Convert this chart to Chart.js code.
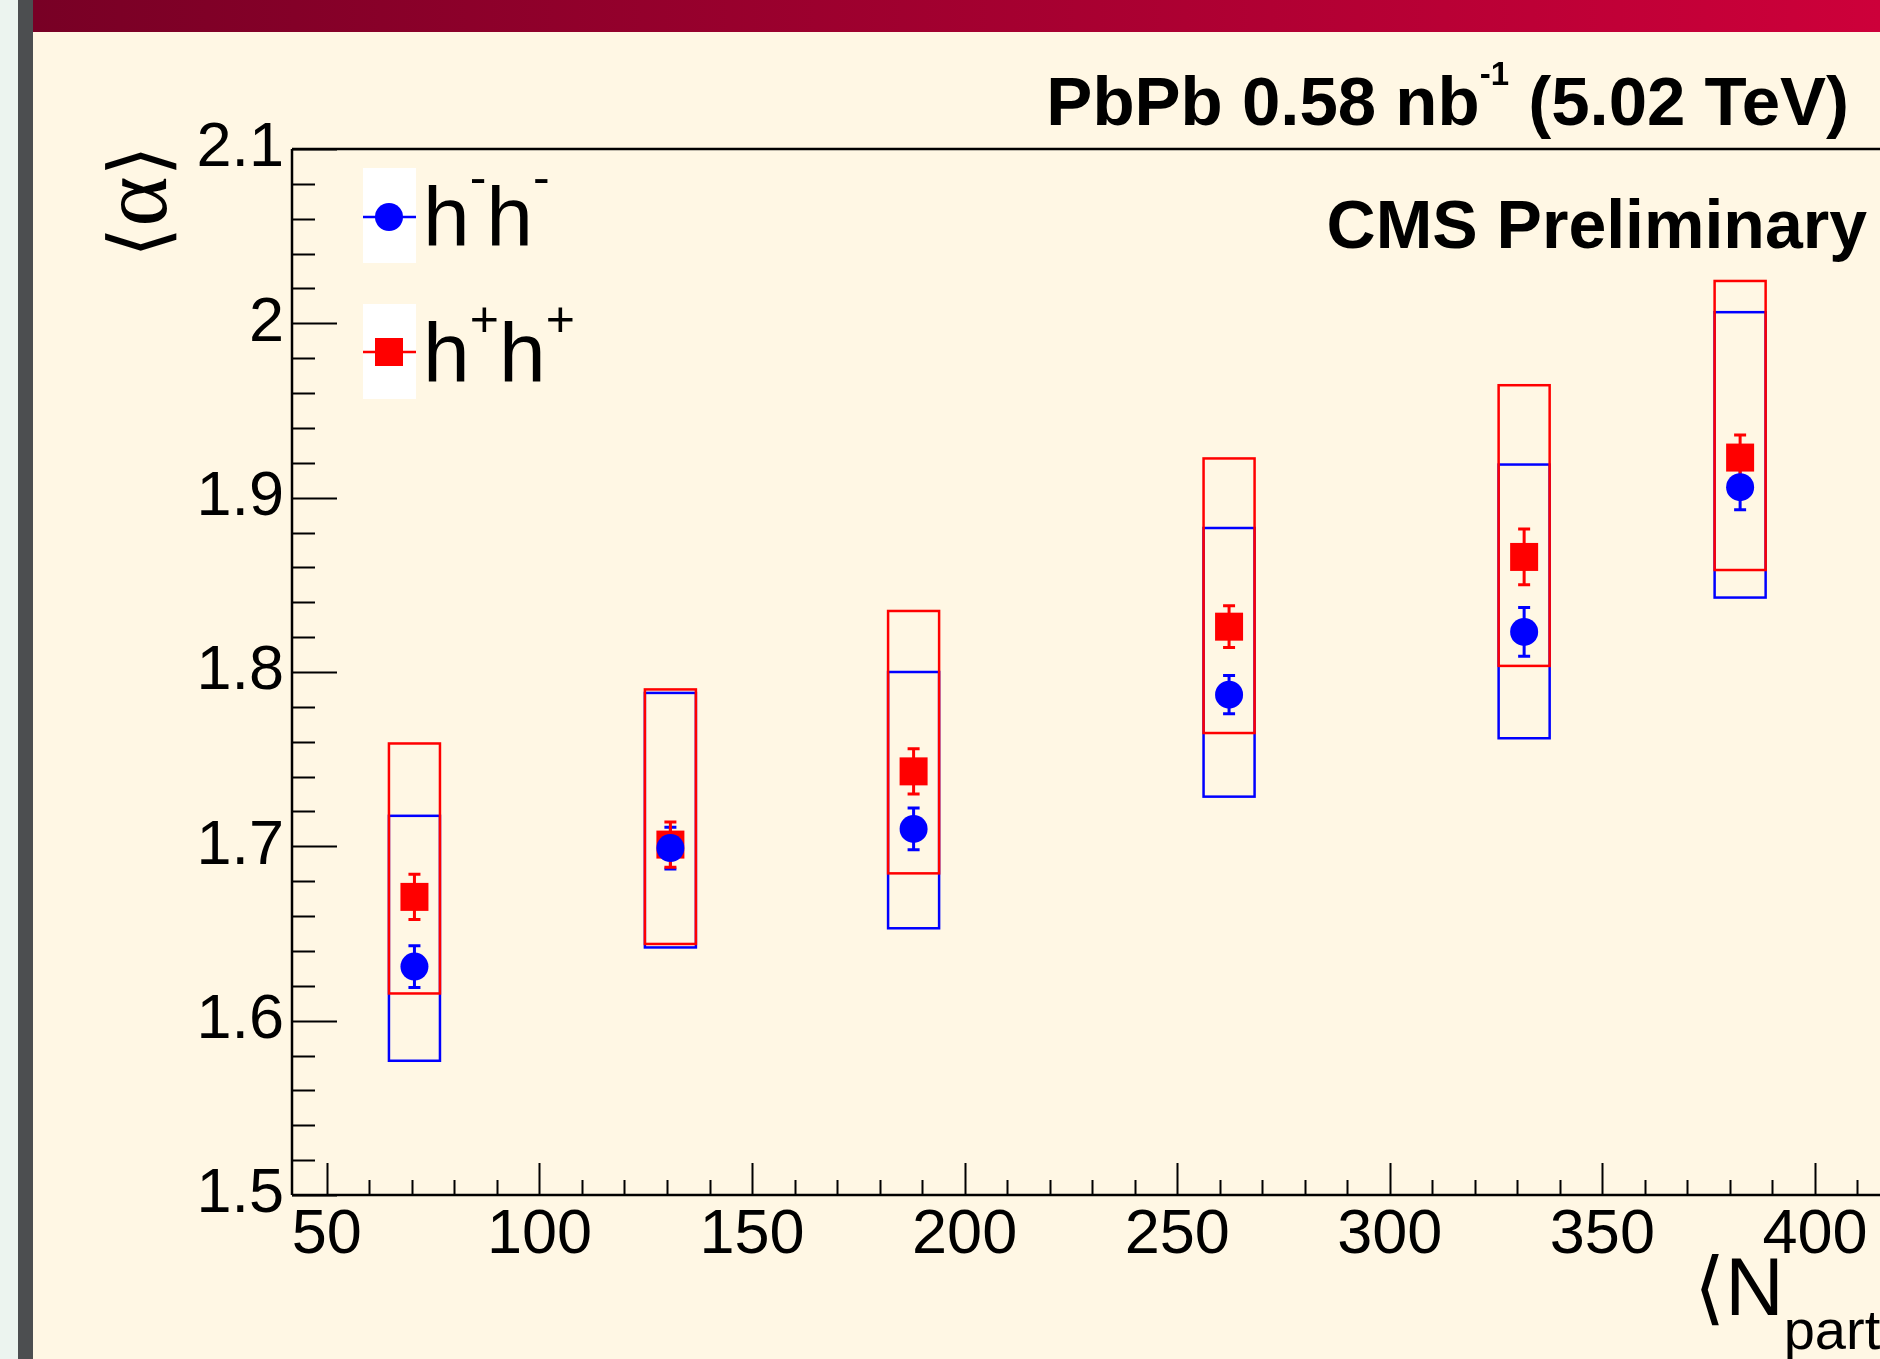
<!DOCTYPE html>
<html lang="en">

<head>
    <meta charset="UTF-8">
    <title>Lévy alpha vs Npart</title>
    <script src="https://cdn.jsdelivr.net/npm/chart.js"></script>
    <style>
        body {
            margin: 0;
            width: 1880px;
            height: 1359px;
            overflow: hidden;
            position: relative;
            background: #fff7e4;
        }

        .strip-light { position: absolute; left: 0; top: 0; width: 18px; height: 100%; background: #ecf4ef; }
        .strip-dark { position: absolute; left: 18px; top: 0; width: 15px; height: 100%; background: #4c4e50; }
        .topbar {
            position: absolute; left: 33px; top: 0; right: 0; height: 32px;
            background: linear-gradient(to right, #780025, #cd003a);
        }
        #chart { position: absolute; left: 0; top: 0; }
    </style>
</head>

<body>
    <div class="strip-light"></div>
    <div class="strip-dark"></div>
    <div class="topbar"></div>
    <canvas id="chart" width="1880" height="1359"></canvas>

    <script>
        // tick values
        const xTicks = [50, 100, 150, 200, 250, 300, 350, 400];
        const yTicks = [1.5, 1.6, 1.7, 1.8, 1.9, 2.0, 2.1];

        // <Npart> of each centrality bin
        const npart = [70.6, 130.8, 188.0, 262.2, 331.6, 382.4];

        // h-h-
        const alphaMinus = [1.631, 1.699, 1.710, 1.787, 1.823, 1.906];
        const statMinus = [0.012, 0.012, 0.012, 0.011, 0.014, 0.013];
        const sysLowMinus = [1.577, 1.642, 1.653, 1.7285, 1.762, 1.8427];
        const sysHighMinus = [1.7175, 1.788, 1.800, 1.8826, 1.919, 2.0064];

        // h+h+
        const alphaPlus = [1.671, 1.701, 1.743, 1.826, 1.866, 1.923];
        const statPlus = [0.013, 0.013, 0.013, 0.012, 0.016, 0.013];
        const sysLowPlus = [1.6156, 1.644, 1.6845, 1.765, 1.8035, 1.8585];
        const sysHighPlus = [1.759, 1.790, 1.835, 1.9225, 1.9645, 2.0243];

        const BLUE = '#0000ff';
        const RED = '#ff0000';
        const SANS = '"Liberation Sans", Arial, sans-serif';
        const boxHalf = 6; // half width of systematic boxes, Npart units

        function drawParts(ctx, parts, x, y, align) {
            let total = 0;
            parts.forEach(p => { ctx.font = p[1]; total += ctx.measureText(p[0]).width; });
            let cx = align === 'right' ? x - total : x;
            parts.forEach(p => {
                ctx.font = p[1];
                ctx.fillText(p[0], cx, y + (p[2] || 0));
                cx += ctx.measureText(p[0]).width;
            });
        }

        // systematic boxes and stat error bars
        const errorPlugin = {
            id: 'errors',
            beforeDatasetsDraw(chart) {
                const { ctx, scales: { x, y } } = chart;
                ctx.save();
                ctx.lineWidth = 2.5;
                const boxes = (lo, hi, color) => {
                    ctx.strokeStyle = color;
                    npart.forEach((n, i) => {
                        const x0 = x.getPixelForValue(n - boxHalf), x1 = x.getPixelForValue(n + boxHalf);
                        const y0 = y.getPixelForValue(hi[i]), y1 = y.getPixelForValue(lo[i]);
                        ctx.strokeRect(x0, y0, x1 - x0, y1 - y0);
                    });
                };
                const bars = (vals, errs, color) => {
                    ctx.strokeStyle = color;
                    ctx.lineWidth = 3;
                    npart.forEach((n, i) => {
                        const px = x.getPixelForValue(n);
                        const yt = y.getPixelForValue(vals[i] + errs[i]);
                        const yb = y.getPixelForValue(vals[i] - errs[i]);
                        ctx.beginPath();
                        ctx.moveTo(px, yt); ctx.lineTo(px, yb);
                        ctx.moveTo(px - 6, yt); ctx.lineTo(px + 6, yt);
                        ctx.moveTo(px - 6, yb); ctx.lineTo(px + 6, yb);
                        ctx.stroke();
                    });
                };
                boxes(sysLowMinus, sysHighMinus, BLUE);
                boxes(sysLowPlus, sysHighPlus, RED);
                bars(alphaMinus, statMinus, BLUE);
                bars(alphaPlus, statPlus, RED);
                ctx.restore();
            }
        };

        // ROOT style frame with inward ticks, legend and labels
        const framePlugin = {
            id: 'frame',
            afterDraw(chart) {
                const { ctx, chartArea: a, scales: { x, y } } = chart;
                const right = ctx.canvas.width;
                ctx.save();
                ctx.strokeStyle = '#000';
                ctx.lineWidth = 2.5;
                ctx.beginPath();
                ctx.moveTo(a.left, a.top); ctx.lineTo(right, a.top);
                ctx.moveTo(a.left, a.top); ctx.lineTo(a.left, a.bottom);
                ctx.moveTo(a.left, a.bottom); ctx.lineTo(right, a.bottom);
                ctx.stroke();

                ctx.lineWidth = 2;
                ctx.beginPath();
                for (let v = 1.5; v <= 2.1001; v += 0.02) {
                    const py = Math.round(y.getPixelForValue(v)) + 0.5;
                    const major = Math.abs(v * 10 - Math.round(v * 10)) < 1e-6;
                    ctx.moveTo(a.left, py); ctx.lineTo(a.left + (major ? 45 : 23), py);
                }
                for (let v = 50; v <= 410; v += 10) {
                    const px = Math.round(x.getPixelForValue(v)) + 0.5;
                    const major = v % 50 === 0;
                    ctx.moveTo(px, a.bottom); ctx.lineTo(px, a.bottom - (major ? 32 : 15));
                }
                ctx.stroke();

                // legend
                ctx.fillStyle = '#fff';
                ctx.fillRect(363, 168, 53, 95);
                ctx.fillRect(363, 304, 53, 95);
                ctx.lineWidth = 2.5;
                ctx.strokeStyle = BLUE;
                ctx.beginPath(); ctx.moveTo(363, 217); ctx.lineTo(416, 217); ctx.stroke();
                ctx.fillStyle = BLUE;
                ctx.beginPath(); ctx.arc(389, 217, 14, 0, Math.PI * 2); ctx.fill();
                ctx.strokeStyle = RED;
                ctx.beginPath(); ctx.moveTo(363, 352); ctx.lineTo(416, 352); ctx.stroke();
                ctx.fillStyle = RED;
                ctx.fillRect(375, 338, 28, 28);

                ctx.fillStyle = '#000';
                ctx.textBaseline = 'alphabetic';
                const big = '84px ' + SANS, sup = '50px ' + SANS;
                drawParts(ctx, [['h', big], ['-', sup, -52], ['h', big], ['-', sup, -52]], 423, 246);
                drawParts(ctx, [['h', big], ['+', sup, -46], ['h', big], ['+', sup, -46]], 423, 382);

                // header texts
                const bold = 'bold 69px ' + SANS;
                drawParts(ctx, [['PbPb 0.58 nb', bold], ['-1', 'bold 33px ' + SANS, -40], [' (5.02 TeV)', bold]], 1849, 125, 'right');
                drawParts(ctx, [['CMS Preliminary', 'bold 68px ' + SANS]], 1867, 248, 'right');

                // axis titles
                drawParts(ctx, [['⟨', '80px "DejaVu Sans", ' + SANS], ['N', '81px ' + SANS], ['part', '56px ' + SANS, 34], ['⟩', '80px "DejaVu Sans", ' + SANS, 0]], 1694, 1315);

                ctx.translate(166, 258);
                ctx.rotate(-Math.PI / 2);
                const br = '80px "DejaVu Serif", serif';
                drawParts(ctx, [['⟨', br], ['α', '96px "Liberation Serif", serif'], ['⟩', br]], 0, 0);
                ctx.restore();
            }
        };

        new Chart(document.getElementById('chart'), {
            type: 'scatter',
            data: {
                datasets: [{
                    label: 'h-h-',
                    data: npart.map((n, i) => ({ x: n, y: alphaMinus[i] })),
                    pointStyle: 'circle',
                    pointRadius: 14,
                    pointHoverRadius: 14,
                    backgroundColor: BLUE,
                    borderWidth: 0
                }, {
                    label: 'h+h+',
                    data: npart.map((n, i) => ({ x: n, y: alphaPlus[i] })),
                    pointStyle: 'rect',
                    pointRadius: 19.8,
                    pointHoverRadius: 19.8,
                    backgroundColor: RED,
                    borderWidth: 0
                }]
            },
            options: {
                responsive: false,
                animation: false,
                events: [],
                layout: { autoPadding: false, padding: { top: 149, left: 0, right: 0, bottom: 0 } },
                plugins: { legend: { display: false }, tooltip: { enabled: false } },
                scales: {
                    x: {
                        type: 'linear',
                        bounds: 'data',
                        min: 41.8,
                        max: 415.3,
                        afterBuildTicks: s => { s.ticks = xTicks.map(v => ({ value: v })); },
                        afterFit: s => { s.height = 164; s.paddingLeft = 0; s.paddingRight = 0; },
                        grid: { display: false, drawTicks: false },
                        border: { display: false },
                        ticks: {
                            autoSkip: false, maxRotation: 0, padding: 3, color: '#000',
                            font: { family: SANS, size: 63 }
                        }
                    },
                    y: {
                        bounds: 'data',
                        min: 1.5,
                        max: 2.1,
                        afterBuildTicks: s => { s.ticks = yTicks.map(v => ({ value: v })); },
                        afterFit: s => { s.width = 292; },
                        grid: { display: false, drawTicks: false },
                        border: { display: false },
                        ticks: {
                            padding: 8, color: '#000',
                            font: { family: SANS, size: 63 },
                            callback: v => String(+v.toFixed(1))
                        }
                    }
                }
            },
            plugins: [errorPlugin, framePlugin]
        });
    </script>
</body>

</html>
